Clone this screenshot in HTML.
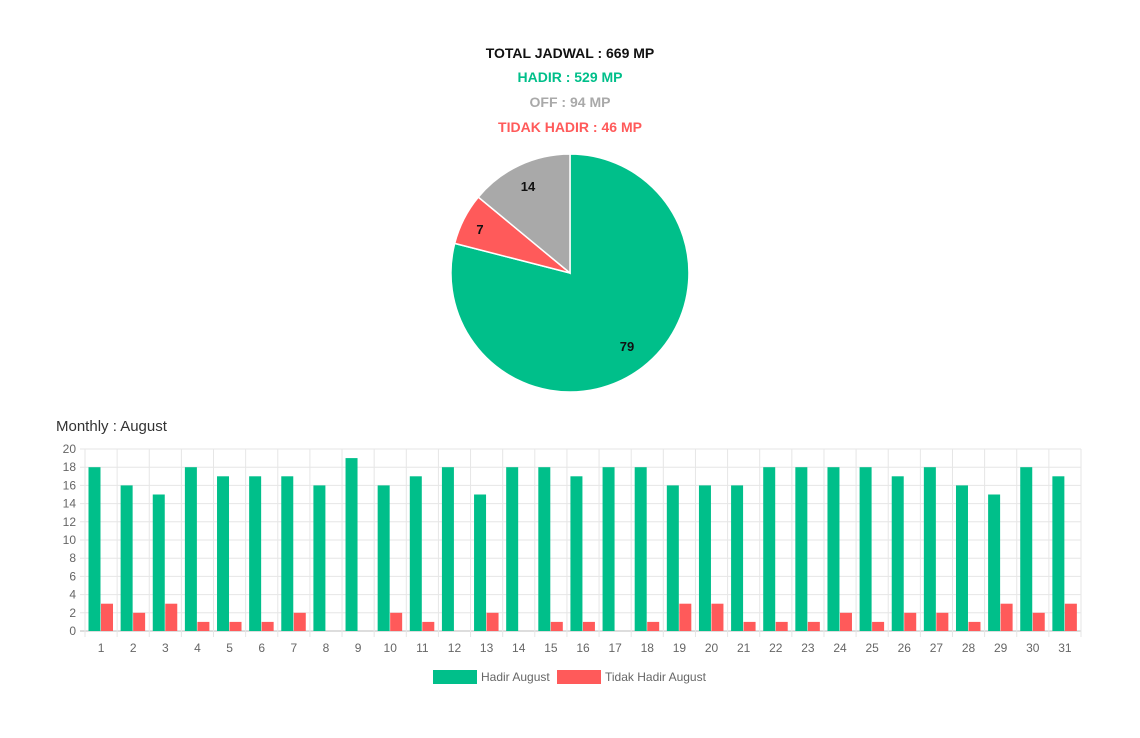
<!DOCTYPE html>
<html><head><meta charset="utf-8"><style>
html,body{margin:0;padding:0;background:#fff;width:1140px;height:738px;overflow:hidden}
svg{display:block}
</style></head><body>
<svg id="s" width="1140" height="738" xmlns="http://www.w3.org/2000/svg" font-family="Liberation Sans, sans-serif">
<g font-weight="bold" font-size="14" text-anchor="middle">
<text x="570" y="58" fill="#111">TOTAL JADWAL : 669 MP</text>
<text x="570" y="82" fill="#00bf8a">HADIR : 529 MP</text>
<text x="570" y="107" fill="#a9a9a9">OFF : 94 MP</text>
<text x="570" y="132" fill="#ff5a5a">TIDAK HADIR : 46 MP</text>
</g>
<path d="M570,273 L570,154 A119,119 0 1 1 454.7,243.4 Z" fill="#00bf8a" stroke="#fff" stroke-width="1.5"/>
<path d="M570,273 L454.7,243.4 A119,119 0 0 1 478.3,197.1 Z" fill="#ff5a5a" stroke="#fff" stroke-width="1.5"/>
<path d="M570,273 L478.3,197.1 A119,119 0 0 1 570,154 Z" fill="#a9a9a9" stroke="#fff" stroke-width="1.5"/>
<g font-weight="bold" font-size="13" fill="#111" text-anchor="middle">
<text x="528" y="191">14</text><text x="480" y="234">7</text><text x="627" y="351">79</text>
</g>
<text x="56" y="431" font-size="15" fill="#333">Monthly : August</text>
<g id="chart"></g>
<rect x="433" y="670" width="44" height="14" fill="#00bf8a"/>
<text x="481" y="681" font-size="12" fill="#666">Hadir August</text>
<rect x="557" y="670" width="44" height="14" fill="#ff5a5a"/>
<text x="605" y="681" font-size="12" fill="#666">Tidak Hadir August</text>
</svg>
<script>
var g=[18,16,15,18,17,17,17,16,19,16,17,18,15,18,18,17,18,18,16,16,16,18,18,18,18,17,18,16,15,18,17];
var r=[3,2,3,1,1,1,2,0,0,2,1,0,2,0,1,1,0,1,3,3,1,1,1,2,1,2,2,1,3,2,3];
var L=85,R=1081,T=449,B=631,cw=(R-L)/31,h='';
for(var i=0;i<=10;i++){var y=B-i*(B-T)/10;h+='<line x1="'+(L-5)+'" x2="'+R+'" y1="'+y+'" y2="'+y+'" stroke="'+(i==0?'#bbb':'#e6e6e6')+'"/>';
h+='<text x="'+(L-9)+'" y="'+(y+4)+'" font-size="12" fill="#666" text-anchor="end">'+(i*2)+'</text>';}
for(var i=0;i<=31;i++){var x=L+i*cw;h+='<line x1="'+x+'" x2="'+x+'" y1="'+T+'" y2="'+(B+6)+'" stroke="#e6e6e6"/>';}
for(var i=0;i<31;i++){var x=L+i*cw,k=(B-T)/20;
h+='<rect x="'+(x+3.5)+'" y="'+(B-g[i]*k)+'" width="12" height="'+(g[i]*k)+'" fill="#00bf8a"/>';
if(r[i])h+='<rect x="'+(x+16)+'" y="'+(B-r[i]*k)+'" width="12" height="'+(r[i]*k)+'" fill="#ff5a5a"/>';
h+='<text x="'+(x+cw/2)+'" y="652" font-size="12" fill="#666" text-anchor="middle">'+(i+1)+'</text>';}
document.getElementById('chart').innerHTML=h;
</script>
</body></html>
